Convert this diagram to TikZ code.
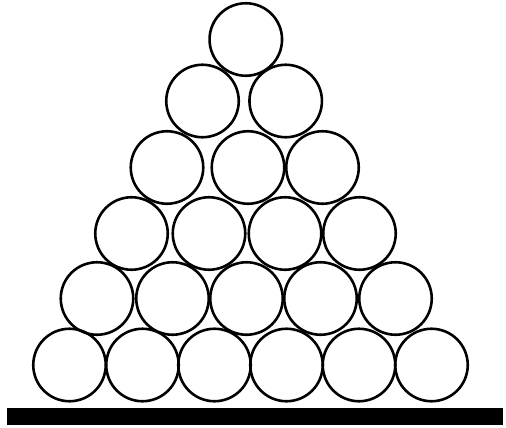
\documentclass[tikz,border=0pt]{standalone}
\usepackage{tikz}
\usetikzlibrary{positioning}

\begin{document}
\begin{tikzpicture}[x=1pt, y=-1pt,
                ball/.style={draw=black, line width=2.6pt, circle, minimum size=72.5pt, inner sep=0pt},
                floor/.style={fill=black, rectangle, inner sep=0pt, minimum width=496pt, minimum height=17pt}
            ]
            \useasboundingbox (0,0) rectangle (506,428);

            % Reihe 1
            \node[ball] (b11) at (245.8,39.5) {};
            % Reihe 2
            \node[ball] (b21) at (202.5,101) {};
            \node[ball] (b22) at (285.7,101) {};
            % Reihe 3
            \node[ball] (b31) at (167,167.5) {};
            \node[ball] (b32) at (248,167.5) {};
            \node[ball] (b33) at (322.5,167.5) {};
            % Reihe 4
            \node[ball] (b41) at (131.5,233.5) {};
            \node[ball] (b42) at (209,233.5) {};
            \node[ball] (b43) at (285,233.5) {};
            \node[ball] (b44) at (359.5,233.5) {};
            % Reihe 5
            \node[ball] (b51) at (97,298.5) {};
            \node[ball] (b52) at (172.5,298.5) {};
            \node[ball] (b53) at (246.5,298.5) {};
            \node[ball] (b54) at (320.5,298.5) {};
            \node[ball] (b55) at (395.5,298.5) {};
            % Reihe 6
            \node[ball] (b61) at (69.5,365) {};
            \node[ball] (b62) at (142.5,365) {};
            \node[ball] (b63) at (214.5,365) {};
            \node[ball] (b64) at (286.5,365) {};
            \node[ball] (b65) at (359,365) {};
            \node[ball] (b66) at (431.5,365) {};

            % Boden
            \node[floor] (boden) at (255,416.5) {};

        \end{tikzpicture}
\end{document}
